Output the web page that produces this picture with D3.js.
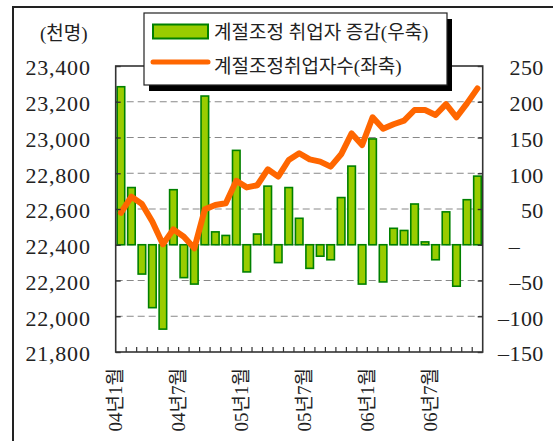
<!DOCTYPE html>
<html>
<head>
<meta charset="utf-8">
<script src="https://cdn.jsdelivr.net/npm/d3@7"></script>
<style>
  body { margin: 0; background: #fff; }
  text { font-family: "Liberation Serif", "Noto Sans CJK KR", serif; fill: #222; }
</style>
</head>
<body>
<div id="chart"></div>
<script>
// months 04.1 .. 06.11
var months = ["04년1월","04년2월","04년3월","04년4월","04년5월","04년6월","04년7월","04년8월","04년9월","04년10월","04년11월","04년12월",
  "05년1월","05년2월","05년3월","05년4월","05년5월","05년6월","05년7월","05년8월","05년9월","05년10월","05년11월","05년12월",
  "06년1월","06년2월","06년3월","06년4월","06년5월","06년6월","06년7월","06년8월","06년9월","06년10월","06년11월"];
var tickLabels = ["04년1월","04년7월","05년1월","05년7월","06년1월","06년7월"];

// 계절조정 취업자 증감 (right axis)
var change = [221, 80, -41, -88, -118, 77, -46, -55, 208, 18, 13, 132,
  -38, 15, 82, -25, 80, 37, -33, -16, -21, 66, 110, -55,
  148, -52, 23, 20, 57, 4, -21, 46, -58, 63, 96];

// 계절조정취업자수 (left axis)
var employed = [22579, 22669, 22628, 22529, 22403, 22486, 22445, 22380, 22598, 22622, 22632, 22758,
  22721, 22733, 22822, 22781, 22874, 22912, 22878, 22865, 22837, 22906, 23023, 22958,
  23113, 23049, 23074, 23094, 23154, 23154, 23126, 23187, 23113, 23191, 23275];

var leftTicks = [21800, 22000, 22200, 22400, 22600, 22800, 23000, 23200, 23400];
var rightTicks = [-150, -100, -50, 0, 50, 100, 150, 200, 250];

var svgWidth = 553, svgHeight = 441;
var margin = {top: 66, left: 115.7};
var width = 367, height = 286;

var svg = d3.select("#chart").append("svg")
  .attr("width", svgWidth)
  .attr("height", svgHeight);

// outer frame
svg.append("rect")
  .attr("x", 13).attr("y", 7)
  .attr("width", 560).attr("height", 460)
  .attr("fill", "none").attr("stroke", "#222").attr("stroke-width", 2);

var g = svg.append("g").attr("transform", `translate(${margin.left},${margin.top})`);

var x = d3.scaleBand().domain(months).range([0, width]).paddingInner(0.28).paddingOuter(0.14);
var yL = d3.scaleLinear().domain([21800, 23400]).range([height, 0]);
var yR = d3.scaleLinear().domain([-150, 250]).range([height, 0]);

// gridlines
g.selectAll(".grid").data(leftTicks.slice(1, -1)).enter().append("line")
  .attr("x1", 0).attr("x2", width)
  .attr("y1", d => yL(d)).attr("y2", d => yL(d))
  .attr("stroke", "#888").attr("stroke-width", 1)
  .attr("stroke-dasharray", "7,4");

// bars
g.selectAll(".bar").data(change).enter().append("rect")
  .attr("x", (d, i) => x(months[i]))
  .attr("width", x.bandwidth())
  .attr("y", d => yR(Math.max(0, d)))
  .attr("height", d => Math.abs(yR(d) - yR(0)))
  .attr("fill", "#99cc00")
  .attr("stroke", "#008000")
  .attr("stroke-width", 1.6);

// line
var line = d3.line()
  .x((d, i) => x(months[i]) + x.bandwidth() / 2)
  .y(d => yL(d));
g.append("path").datum(employed)
  .attr("d", line)
  .attr("fill", "none")
  .attr("stroke", "#ff6600")
  .attr("stroke-width", 6)
  .attr("stroke-linejoin", "round")
  .attr("stroke-linecap", "round");

// plot frame
g.append("rect").attr("width", width).attr("height", height)
  .attr("fill", "none").attr("stroke", "#333").attr("stroke-width", 1.6);

// left axis
var leftAxis = d3.axisLeft(yL).tickValues(leftTicks).tickSize(-5).tickPadding(25)
  .tickFormat(d3.format(","));
var la = g.append("g").call(leftAxis);
la.select(".domain").remove();
la.selectAll("line").attr("stroke", "#333").attr("stroke-width", 1.4);
la.selectAll("text").attr("font-size", "22px").attr("letter-spacing", "0.8px").attr("dy", "0.4em");

// right axis
var rightAxis = d3.axisRight(yR).tickValues(rightTicks).tickSize(-5)
  .tickFormat(d => d === 0 ? "–" : String(d).replace("-", "–"));
var ra = g.append("g").attr("transform", `translate(${width},0)`).call(rightAxis);
ra.select(".domain").remove();
ra.selectAll("line").attr("stroke", "#333").attr("stroke-width", 1.4);
ra.selectAll("text")
  .attr("font-size", "22px").attr("letter-spacing", "0.4px").attr("dy", "0.4em")
  .attr("text-anchor", d => d === 0 ? "start" : "end")
  .attr("x", d => d === 0 ? 26 : 61);

// x ticks at band edges
var step = x.step();
g.selectAll(".xt").data(d3.range(1, months.length)).enter().append("line")
  .attr("x1", d => d * step).attr("x2", d => d * step)
  .attr("y1", height).attr("y2", height - 5)
  .attr("stroke", "#333").attr("stroke-width", 1.2);

// x labels
g.selectAll(".xl").data(tickLabels).enter().append("text")
  .attr("transform", d => `translate(${months.indexOf(d) * step},${height + 16}) rotate(-90)`)
  .attr("text-anchor", "end")
  .attr("dy", "0.35em")
  .attr("font-size", "19px")
  .text(d => d);

// unit label
svg.append("text").attr("x", 40).attr("y", 40)
  .attr("font-size", "19px").attr("font-family", "Noto Sans CJK KR")
  .text("(천명)");

// legend
var lg = svg.append("g").attr("transform", "translate(144,13)");
lg.append("rect").attr("x", 5).attr("y", 6).attr("width", 303).attr("height", 72).attr("fill", "#000");
lg.append("rect").attr("width", 303).attr("height", 72).attr("fill", "#fff")
  .attr("stroke", "#222").attr("stroke-width", 1.2);
lg.append("rect").attr("x", 9).attr("y", 11.5).attr("width", 55).attr("height", 14)
  .attr("fill", "#99cc00").attr("stroke", "#008000").attr("stroke-width", 2);
lg.append("text").attr("x", 70).attr("y", 19).attr("dy", "0.35em")
  .attr("font-size", "19px").attr("font-family", "Noto Sans CJK KR")
  .text("계절조정 취업자 증감(우축)");
lg.append("line").attr("x1", 9).attr("x2", 64).attr("y1", 49).attr("y2", 49)
  .attr("stroke", "#ff6600").attr("stroke-width", 5).attr("stroke-linecap", "round");
lg.append("text").attr("x", 70).attr("y", 53).attr("dy", "0.35em")
  .attr("font-size", "19px").attr("font-family", "Noto Sans CJK KR")
  .text("계절조정취업자수(좌축)");
</script>
</body>
</html>
